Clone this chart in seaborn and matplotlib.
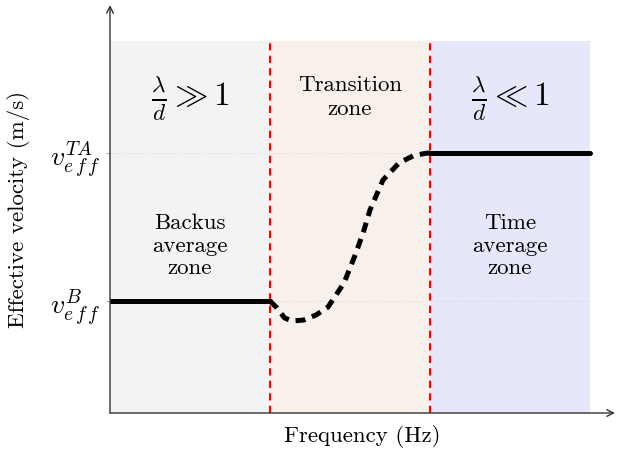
import numpy as np
import matplotlib
matplotlib.use("Agg")
import matplotlib.pyplot as plt
import seaborn as sns

# zone boundaries on the frequency axis (arbitrary units)
zone_edges = [0, 1, 2, 3]
zone_colors = ["#f3f3f3", "#f8f0ea", "#e6e7fb"]
zone_top = 3.32

# velocity levels
v_backus = 1.0
v_time_avg = 2.32
ytick_labels = [r"$v_{e\,f\,f}^{B}$", r"$v_{e\,f\,f}^{TA}$"]

# transition curve
trans_x = [1.0, 1.044, 1.09, 1.1375, 1.21, 1.2875, 1.3625, 1.4625, 1.5375,
           1.5875, 1.625, 1.706, 1.806, 1.9, 1.98, 2.0]
trans_y = [1.0, 0.9375, 0.85, 0.821, 0.83, 0.875, 0.946, 1.161, 1.429,
           1.634, 1.8125, 2.08, 2.232, 2.30, 2.32, 2.32]

sns.set_theme(style="white")
plt.rcParams["font.family"] = "serif"
plt.rcParams["font.serif"] = ["cmr10", "DejaVu Serif"]
plt.rcParams["mathtext.fontset"] = "cm"
plt.rcParams["axes.formatter.use_mathtext"] = True
plt.rcParams["text.color"] = "black"
plt.rcParams["axes.labelcolor"] = "black"
plt.rcParams["ytick.color"] = "black"

fig = plt.figure(figsize=(6.19, 4.54), dpi=100)
ax = fig.add_axes([110 / 619, 41 / 454, 505 / 619, 408 / 454])
ax.set_xlim(0, 505 / 160)
ax.set_ylim(0, 408 / 112)

# shaded zones
for i, c in enumerate(zone_colors):
    ax.fill_between([zone_edges[i], zone_edges[i + 1]], 0, zone_top, color=c, lw=0, zorder=0)

# faint dotted guide lines
ax.hlines([v_backus, v_time_avg], 0, zone_edges[-1], colors="#d9d9d9", linestyles=":", lw=0.8, zorder=1)

# red zone separators
for xb in zone_edges[1:3]:
    ax.plot([xb, xb], [0, zone_top], color="red", lw=1.5, ls=(0, (3.5, 2.5)), zorder=2)

# plateaus
sns.lineplot(x=[zone_edges[0], zone_edges[1]], y=[v_backus, v_backus], ax=ax, color="black", lw=3.6, zorder=3)
sns.lineplot(x=[zone_edges[2], zone_edges[3]], y=[v_time_avg, v_time_avg], ax=ax, color="black", lw=3.6, zorder=3)
sns.lineplot(x=trans_x, y=trans_y, ax=ax, color="black", lw=3.6, ls=(0, (2, 1.4)), zorder=3)

# texts
ax.text(0.5, 2.80, r"$\frac{\lambda}{d} \gg 1$", ha="center", va="center", fontsize=24)
ax.text(2.5, 2.80, r"$\frac{\lambda}{d} \ll 1$", ha="center", va="center", fontsize=24)
ax.text(1.5, 2.82, "Transition\nzone", ha="center", va="center", fontsize=16.5, linespacing=1.25)
ax.text(0.5, 1.49, "Backus\naverage\nzone", ha="center", va="center", fontsize=16.5, linespacing=1.2)
ax.text(2.5, 1.49, "Time\naverage\nzone", ha="center", va="center", fontsize=16.5, linespacing=1.2)

# axes with arrows
for s in ax.spines.values():
    s.set_visible(False)
ax.annotate("", xy=(1, 0), xytext=(0, 0), xycoords="axes fraction",
            arrowprops=dict(arrowstyle="->", color="#333333", lw=1.0, shrinkA=0, shrinkB=0))
ax.annotate("", xy=(0, 1), xytext=(0, 0), xycoords="axes fraction",
            arrowprops=dict(arrowstyle="->", color="#333333", lw=1.0, shrinkA=0, shrinkB=0))

ax.set_xticks([])
ax.set_yticks([v_backus, v_time_avg])
ax.set_yticklabels(ytick_labels, fontsize=20)
ax.tick_params(axis="y", length=3, width=0.6, color="#999999", labelcolor="black",
               direction="out", left=True, pad=4)
ax.set_xlabel("Frequency (Hz)", fontsize=16.5, labelpad=9)
ax.set_ylabel("Effective velocity (m/s)", fontsize=16.5, labelpad=14)

fig.savefig("out.png", dpi=100)
